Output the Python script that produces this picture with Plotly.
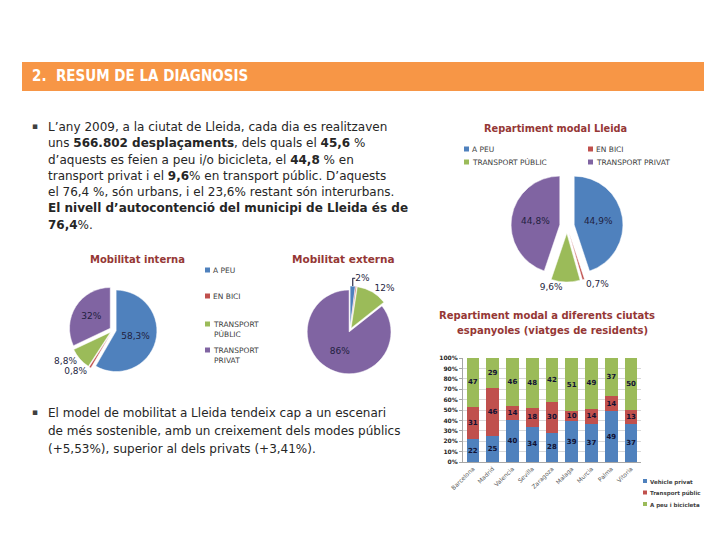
import plotly.graph_objects as go

# ---------------- data ----------------
modes = ["A PEU", "EN BICI", "TRANSPORT PÚBLIC", "TRANSPORT PRIVAT"]
lleida_vals = [44.9, 0.7, 9.6, 44.8]
interna_vals = [58.3, 0.8, 8.8, 32]
externa_vals = [2, 0.4, 12, 86]
externa_show = [True, False, True, True]

cities = ["Barcelona", "Madrid", "Valencia", "Sevilla", "Zaragoza", "Malaga", "Murcia", "Palma", "Vitoria"]
veh_privat = [22, 25, 40, 34, 28, 39, 37, 49, 37]
transp_public = [31, 46, 14, 18, 30, 10, 14, 14, 13]
peu_bici = [47, 29, 46, 48, 42, 51, 49, 37, 50]
bar_series = ["Vehicle privat", "Transport públic", "A peu i bicicleta"]

pie_colors = ["#4F81BD", "#C0504D", "#9BBB59", "#8064A2"]
bar_colors = ["#4F81BD", "#C0504D", "#9BBB59"]
TITLE_RED = "#953735"
FONT = "DejaVu Sans"

W, H = 720, 540


def px(x):
    return x / W


def py(y):
    return 1 - y / H


def pct(v):
    s = f"{v:.1f}".rstrip("0").rstrip(".")
    return s.replace(".", ",") + "%"


def pie_domain(cx, cy, d):
    return dict(x=[px(cx - d / 2), px(cx + d / 2)], y=[py(cy + d / 2), py(cy - d / 2)])


fig = go.Figure()

# ---- Lleida pie ----
fig.add_trace(go.Pie(
    labels=modes, values=lleida_vals, sort=False, direction="clockwise", rotation=0,
    marker=dict(colors=pie_colors, line=dict(color="white", width=0.5)),
    text=[pct(v) for v in lleida_vals], textinfo="text",
    textposition=["inside", "outside", "outside", "inside"],
    textfont=dict(size=9, color="#1F1F3F", family=FONT),
    pull=[0.15, 0.15, 0.15, 0.15], automargin=False,
    domain=pie_domain(567, 226, 112), showlegend=False, hoverinfo="label+percent",
))

# ---- Mobilitat interna ----
fig.add_trace(go.Pie(
    labels=modes, values=interna_vals, sort=False, direction="clockwise", rotation=0,
    marker=dict(colors=pie_colors, line=dict(color="white", width=0.5)),
    text=[pct(v) for v in interna_vals], textinfo="text",
    textposition=["inside", "outside", "outside", "inside"],
    textfont=dict(size=9, color="#1F1F3F", family=FONT),
    pull=[0.08, 0.08, 0.08, 0.08], automargin=False,
    domain=pie_domain(113, 330, 88), showlegend=False, hoverinfo="label+percent",
))

# ---- Mobilitat externa ----
fig.add_trace(go.Pie(
    labels=modes, values=externa_vals, sort=False, direction="clockwise", rotation=0,
    marker=dict(colors=pie_colors, line=dict(color="white", width=0.5)),
    text=[pct(v) if s else "" for v, s in zip(externa_vals, externa_show)], textinfo="text",
    textposition=["outside", "outside", "outside", "inside"],
    textfont=dict(size=9, color="#1F1F3F", family=FONT),
    pull=[0.05, 0.05, 0.05, 0.05], automargin=False,
    domain=pie_domain(350, 330, 88), showlegend=False, hoverinfo="label+percent",
))

# ---- stacked bars ----
for name, vals, col in zip(bar_series, [veh_privat, transp_public, peu_bici], bar_colors):
    fig.add_trace(go.Bar(
        x=cities, y=vals, name=name, marker=dict(color=col, line=dict(width=0)),
        text=vals, textposition="inside", insidetextanchor="middle", textangle=0,
        textfont=dict(size=7, color="#111133", family=FONT, weight="bold"),
        xaxis="x", yaxis="y", showlegend=False,
    ))

shapes = []
annotations = []

# header banner
shapes.append(dict(type="rect", xref="paper", yref="paper", x0=px(22), x1=px(704), y0=py(91), y1=py(62),
                   fillcolor="#F79646", line=dict(width=0), layer="below"))
annotations.append(dict(text="<b>2.  RESUM DE LA DIAGNOSIS</b>", x=px(30), y=py(76.5), xref="paper", yref="paper",
                        xanchor="left", yanchor="middle", showarrow=False,
                        font=dict(size=15, color="white", family="DejaVu Sans Condensed")))

# paragraph 1
para1 = [
    "L’any 2009, a la ciutat de Lleida, cada dia es realitzaven",
    "uns <b>566.802 desplaçaments</b>, dels quals el <b>45,6</b> %",
    "d’aquests es feien a peu i/o bicicleta, el <b>44,8</b> % en",
    "transport privat i el <b>9,6</b>% en transport públic. D’aquests",
    "el 76,4 %, són urbans, i el 23,6% restant són interurbans.",
    "<b>El nivell d’autocontenció del municipi de Lleida és de</b>",
    "<b>76,4</b>%.",
]
for i, line in enumerate(para1):
    annotations.append(dict(text=line, x=px(46), y=py(127 + i * 16.3), xref="paper", yref="paper",
                            xanchor="left", yanchor="middle", showarrow=False,
                            font=dict(size=12, color="#262626", family=FONT)))
annotations.append(dict(text="▪", x=px(30), y=py(126), xref="paper", yref="paper", xanchor="left",
                        yanchor="middle", showarrow=False, font=dict(size=9, color="#404040", family=FONT)))

para2 = [
    "El model de mobilitat a Lleida tendeix cap a un escenari",
    "de més sostenible, amb un creixement dels modes públics",
    "(+5,53%), superior al dels privats (+3,41%).",
]
for i, line in enumerate(para2):
    annotations.append(dict(text=line, x=px(46), y=py(413 + i * 18.2), xref="paper", yref="paper",
                            xanchor="left", yanchor="middle", showarrow=False,
                            font=dict(size=12, color="#262626", family=FONT)))
annotations.append(dict(text="▪", x=px(30), y=py(412), xref="paper", yref="paper", xanchor="left",
                        yanchor="middle", showarrow=False, font=dict(size=9, color="#404040", family=FONT)))

# chart titles
for txt, x, y, s in [("Repartiment modal Lleida", 555, 128, 9.8), ("Mobilitat interna", 137, 260, 10),
                     ("Mobilitat externa", 343, 259, 10.5),
                     ("Repartiment modal a diferents ciutats", 547, 315, 10),
                     ("espanyoles (viatges de residents)", 552, 330, 10)]:
    annotations.append(dict(text=f"<b>{txt}</b>", x=px(x), y=py(y), xref="paper", yref="paper",
                            xanchor="center", yanchor="middle", showarrow=False,
                            font=dict(size=s, color=TITLE_RED, family=FONT)))


def legend_item(x, y, color, lines, size=7.5, sq=5, weight="normal"):
    shapes.append(dict(type="rect", xref="paper", yref="paper", x0=px(x), x1=px(x + sq),
                       y0=py(y + sq / 2), y1=py(y - sq / 2), fillcolor=color, line=dict(width=0)))
    annotations.append(dict(text="<br>".join(lines), x=px(x + sq + 1), y=py(y - size * 0.75), xref="paper",
                            yref="paper", xanchor="left", yanchor="top", align="left", showarrow=False,
                            font=dict(size=size, color="#404040", family=FONT, weight=weight)))


# Lleida legend (2 columns)
legend_item(464, 149, pie_colors[0], ["A PEU"])
legend_item(588, 149, pie_colors[1], ["EN BICI"])
legend_item(464, 162, pie_colors[2], ["TRANSPORT PÚBLIC"])
legend_item(588, 162, pie_colors[3], ["TRANSPORT PRIVAT"])

# interna/externa legend (vertical)
legend_item(205, 270, pie_colors[0], ["A PEU"])
legend_item(205, 296, pie_colors[1], ["EN BICI"])
legend_item(205, 324, pie_colors[2], ["TRANSPORT", "PÚBLIC"])
legend_item(205, 350, pie_colors[3], ["TRANSPORT", "PRIVAT"])

# bar legend
for i, (name, col) in enumerate(zip(bar_series, bar_colors)):
    legend_item(643, 481 + i * 11.5, col, [name], size=5.5, sq=4, weight="bold")

fig.update_layout(
    width=W, height=H, margin=dict(l=0, r=0, t=0, b=0, autoexpand=False),
    paper_bgcolor="white", plot_bgcolor="white",
    barmode="stack", bargap=0.36,
    uniformtext=dict(minsize=7, mode="show"),
    xaxis=dict(domain=[px(463), px(641)], tickangle=-45, tickfont=dict(size=6, color="#595959", family=FONT),
               showline=True, linecolor="#A6A6A6", showgrid=False, ticks="", anchor="y"),
    yaxis=dict(domain=[py(462), py(358)], range=[0, 100], dtick=10, ticksuffix="%",
               tickfont=dict(size=6, color="#262626", family=FONT, weight="bold"),
               showline=True, linecolor="#A6A6A6", gridcolor="#D9D9D9", gridwidth=0.7,
               ticks="outside", ticklen=3, tickcolor="#A6A6A6", anchor="x", zeroline=False),
    showlegend=False,
    shapes=shapes, annotations=annotations,
)

fig.write_html("out.html", config={"displayModeBar": False},
               post_script="document.body.style.margin='0';")
